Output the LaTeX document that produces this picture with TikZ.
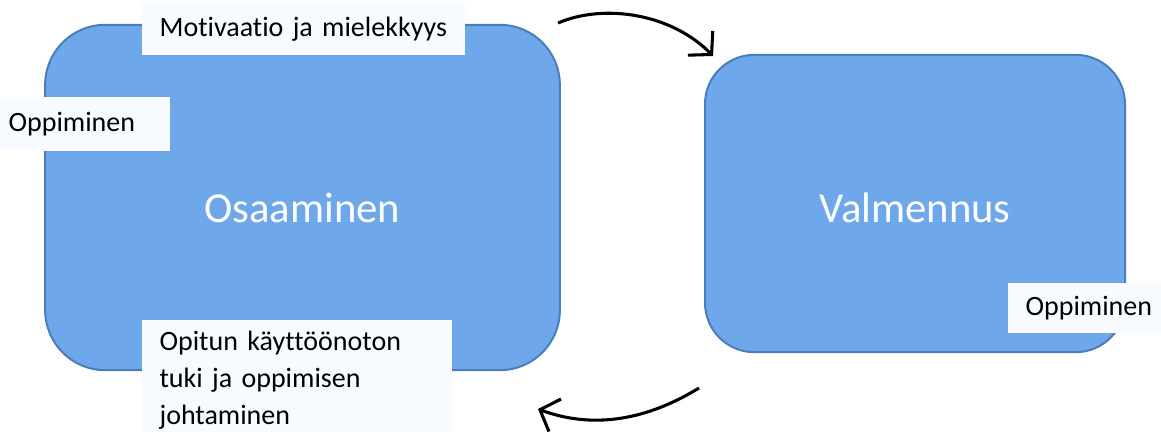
\documentclass[tikz,border=0pt]{standalone}
\usepackage{fontspec}
\setmainfont{Carlito}[Ligatures=NoCommon]
\usetikzlibrary{arrows.meta}
\definecolor{boxfill}{HTML}{6FA8EA}
\definecolor{boxline}{HTML}{4A7EBB}
\definecolor{labfill}{HTML}{F7FBFF}
\begin{document}
\begin{tikzpicture}[x=0.75pt,y=-0.75pt,
  bigbox/.style={draw=boxline,line width=1.5pt,fill=boxfill},
  bigtext/.style={text=white,font=\fontsize{32}{38}\selectfont},
  lab/.style={fill=labfill,anchor=north west,align=left,inner xsep=13pt,
    font=\fontsize{21}{27.5}\selectfont},
  swing/.style={line width=2.3pt,-{Straight Barb[length=12pt,width=26pt,line width=2.3pt]}}]
\useasboundingbox (0,0) rectangle (1161,432);
% main boxes
\node[bigbox,rounded corners=45pt,minimum width=386pt,minimum height=259pt,
  label={[bigtext,yshift=-8pt]center:Osaaminen}] (osaaminen) at (302.5,197.5) {};
\node[bigbox,rounded corners=37pt,minimum width=315pt,minimum height=223pt,
  label={[bigtext,yshift=-3.5pt]center:Valmennus}] (valmennus) at (915,203.5) {};
% labels
\node[lab,minimum height=39pt,text width=216pt] (motivaatio) at (142,3) {Motivaatio ja mielekkyys};
\node[lab,minimum height=40pt,text width=108pt] (oppvasen) at (-9,97) {Oppiminen};
\node[lab,minimum height=37.5pt,text width=100pt] (oppoikea) at (1008,283) {Oppiminen};
\node[lab,minimum height=90pt,text width=206pt,inner ysep=5pt] (tuki) at (142,320) {Opitun käyttöönoton\\tuki ja oppimisen\\johtaminen};
% arrows
\coordinate (ylaalku) at (558,23);
\coordinate (ylaloppu) at (713,56);
\coordinate (alaalku) at (699,388);
\coordinate (alaloppu) at (538,409);
\draw[swing] (ylaalku) .. controls (605,3) and (672,14) .. (ylaloppu);
\draw[swing] (alaalku) .. controls (655,415) and (600,432) .. (alaloppu);
\end{tikzpicture}
\end{document}
